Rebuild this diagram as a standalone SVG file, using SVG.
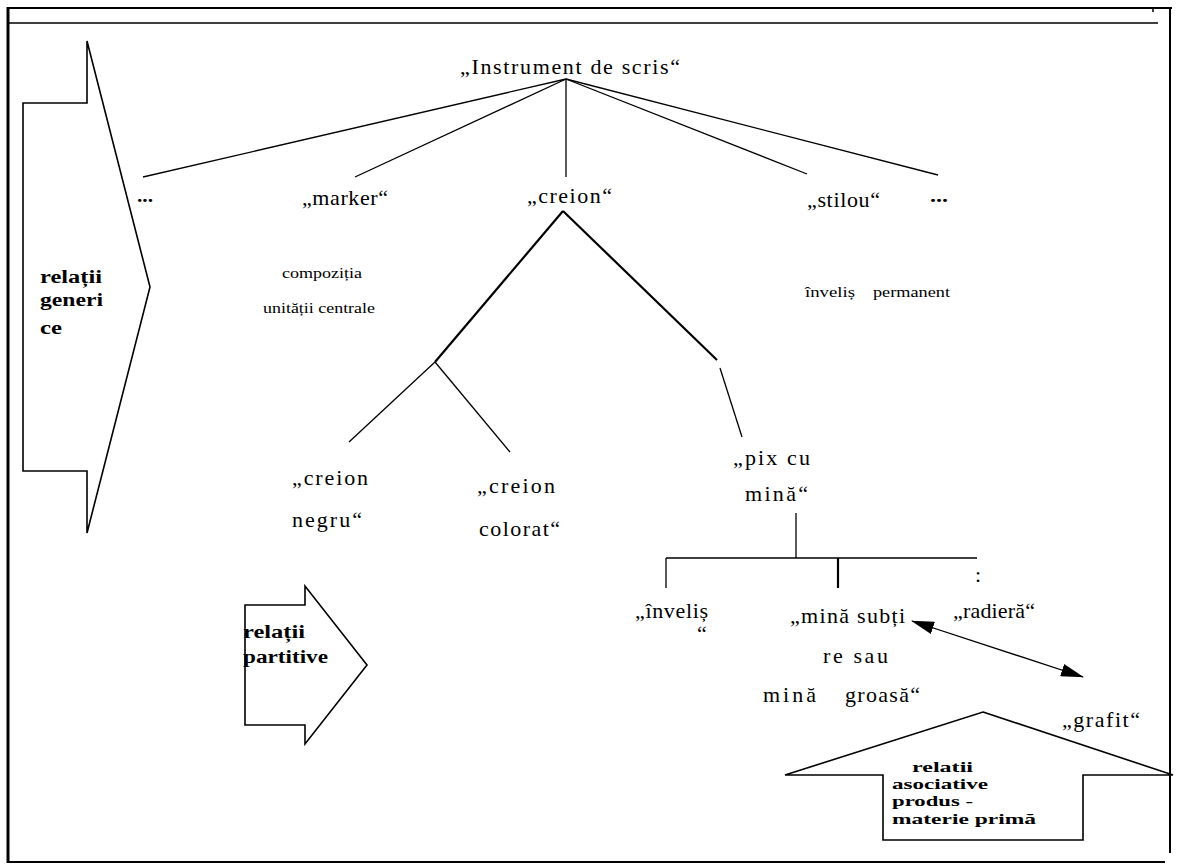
<svg xmlns="http://www.w3.org/2000/svg" width="1181" height="865" viewBox="0 0 1181 865">
<style>
.t{font-family:"Liberation Serif","DejaVu Serif","Times New Roman",serif;font-size:22px;fill:#000}
.s{font-family:"Liberation Serif","DejaVu Serif","Times New Roman",serif;font-size:15px;fill:#000}
.b{font-family:"Liberation Serif","DejaVu Serif","Times New Roman",serif;font-size:18px;font-weight:bold;fill:#000}
.bs{font-family:"Liberation Serif","DejaVu Serif","Times New Roman",serif;font-size:15px;font-weight:bold;fill:#000}
.ln{stroke:#000;stroke-width:1.3;fill:none}
.thk{stroke:#000;stroke-width:2.2;fill:none}
.shape{stroke:#000;stroke-width:1.6;fill:#fff;stroke-linejoin:miter}
.frame{stroke:#000;fill:none}
</style>
<defs>
<marker id="ah" markerWidth="23" markerHeight="13" refX="22" refY="6.5" orient="auto-start-reverse" markerUnits="userSpaceOnUse">
<path d="M0,0 L23,6.5 L0,13 z" fill="#000"/>
</marker>
</defs>
<rect width="1181" height="865" fill="#fff"/>
<g id="frame">
<line class="frame" x1="8" y1="8" x2="1172" y2="8" stroke-width="2"/>
<line class="frame" x1="8" y1="23" x2="1158" y2="23" stroke-width="1.5" stroke="#444"/>
<line class="frame" x1="8" y1="7" x2="8" y2="863" stroke-width="3"/>
<line class="frame" x1="1170" y1="7" x2="1170" y2="853" stroke-width="2"/>
<line class="frame" x1="8" y1="862" x2="1165" y2="862" stroke-width="2" stroke="#444"/>
<line class="frame" x1="1153" y1="8" x2="1153" y2="12" stroke-width="1.5"/>
</g>
<g id="arrow-generice">
<polygon class="shape" points="23,103 87,103 87,41 150,287 87,533 87,471 23,471"/>
<text class="b" x="40" y="283" textLength="62" lengthAdjust="spacingAndGlyphs">relații</text>
<text class="b" x="40" y="306" textLength="63" lengthAdjust="spacingAndGlyphs">generi</text>
<text class="b" x="40" y="334" textLength="22" lengthAdjust="spacingAndGlyphs">ce</text>
</g>
<g id="arrow-partitive">
<polygon class="shape" points="245,605 305,605 305,586 367,665 305,744 305,725 245,725"/>
<text class="b" x="243" y="638" textLength="62" lengthAdjust="spacingAndGlyphs">relații</text>
<text class="b" x="243" y="663" textLength="85" lengthAdjust="spacingAndGlyphs">partitive</text>
</g>
<g id="arrow-asociative">
<polygon class="shape" points="983,712 1173,775 1083,775 1083,840 883,840 883,775 785,775"/>
<text class="bs" x="912" y="772" textLength="61" lengthAdjust="spacingAndGlyphs">relatii</text>
<text class="bs" x="892" y="789" textLength="96" lengthAdjust="spacingAndGlyphs">asociative</text>
<text class="bs" x="892" y="806" textLength="81" lengthAdjust="spacingAndGlyphs">produs -</text>
<text class="bs" x="892" y="824" textLength="144" lengthAdjust="spacingAndGlyphs">materie primă</text>
</g>
<g id="connectors">
<line class="ln" x1="566" y1="79" x2="143" y2="177"/>
<line class="ln" x1="566" y1="79" x2="355" y2="177"/>
<line class="ln" x1="566" y1="79" x2="566" y2="177"/>
<line class="ln" x1="566" y1="79" x2="807" y2="174"/>
<line class="ln" x1="566" y1="79" x2="938" y2="175"/>
<line class="thk" x1="563" y1="211" x2="435" y2="362"/>
<line class="thk" x1="563" y1="211" x2="717" y2="360"/>
<line class="ln" x1="720" y1="368" x2="742" y2="437"/>
<line class="ln" x1="435" y1="362" x2="349" y2="442"/>
<line class="ln" x1="435" y1="362" x2="510" y2="452"/>
<line class="ln" x1="796" y1="513" x2="796" y2="558"/>
<line class="ln" x1="666" y1="558" x2="977" y2="558"/>
<line class="ln" x1="666" y1="558" x2="666" y2="588"/>
<line class="thk" x1="838" y1="558" x2="838" y2="588" stroke-width="3"/>
<line class="ln" x1="912" y1="621" x2="1083" y2="677" marker-start="url(#ah)" marker-end="url(#ah)"/>
</g>
<g id="node-root">
<text class="t" x="460" y="74" textLength="220" lengthAdjust="spacing">„Instrument de scris“</text>
</g>
<g id="node-dots-left">
<text class="b" x="137" y="202" textLength="16" lengthAdjust="spacingAndGlyphs">...</text>
</g>
<g id="node-marker">
<text class="t" x="302" y="205" textLength="86" lengthAdjust="spacing">„marker“</text>
<text class="s" x="282" y="278" textLength="80" lengthAdjust="spacingAndGlyphs">compoziția</text>
<text class="s" x="263" y="313" textLength="112" lengthAdjust="spacingAndGlyphs">unității centrale</text>
</g>
<g id="node-creion">
<text class="t" x="527" y="203" textLength="85" lengthAdjust="spacing">„creion“</text>
</g>
<g id="node-stilou">
<text class="t" x="807" y="207" textLength="73" lengthAdjust="spacing">„stilou“</text>
<text class="s" x="805" y="297" textLength="50" lengthAdjust="spacingAndGlyphs">înveliș</text>
<text class="s" x="873" y="297" textLength="77" lengthAdjust="spacingAndGlyphs">permanent</text>
</g>
<g id="node-dots-right">
<text class="b" x="930" y="202" textLength="18" lengthAdjust="spacingAndGlyphs">...</text>
</g>
<g id="node-creion-negru">
<text class="t" x="292" y="485" textLength="76" lengthAdjust="spacing">„creion</text>
<text class="t" x="292" y="527" textLength="70" lengthAdjust="spacing">negru“</text>
</g>
<g id="node-creion-colorat">
<text class="t" x="477" y="493" textLength="78" lengthAdjust="spacing">„creion</text>
<text class="t" x="479" y="536" textLength="81" lengthAdjust="spacing">colorat“</text>
</g>
<g id="node-pix">
<text class="t" x="733" y="465" textLength="77" lengthAdjust="spacing">„pix cu</text>
<text class="t" x="745" y="501" textLength="63" lengthAdjust="spacing">mină“</text>
</g>
<g id="node-invelis">
<text class="t" x="635" y="618" textLength="73" lengthAdjust="spacing">„înveliș</text>
<text class="t" x="697" y="641">“</text>
</g>
<g id="node-mina">
<text class="t" x="790" y="623" textLength="115" lengthAdjust="spacing">„mină subți</text>
<text class="t" x="823" y="663" textLength="65" lengthAdjust="spacing">re sau</text>
<text class="t" x="763" y="702" textLength="53" lengthAdjust="spacing">mină</text>
<text class="t" x="845" y="702" textLength="75" lengthAdjust="spacing">groasă“</text>
</g>
<g id="node-radiera">
<text class="t" x="975" y="582" font-size="12">:</text>
<text class="t" x="953" y="618" textLength="82" lengthAdjust="spacing">„radieră“</text>
</g>
<g id="node-grafit">
<text class="t" x="1062" y="727" textLength="78" lengthAdjust="spacing">„grafit“</text>
</g>
</svg>
